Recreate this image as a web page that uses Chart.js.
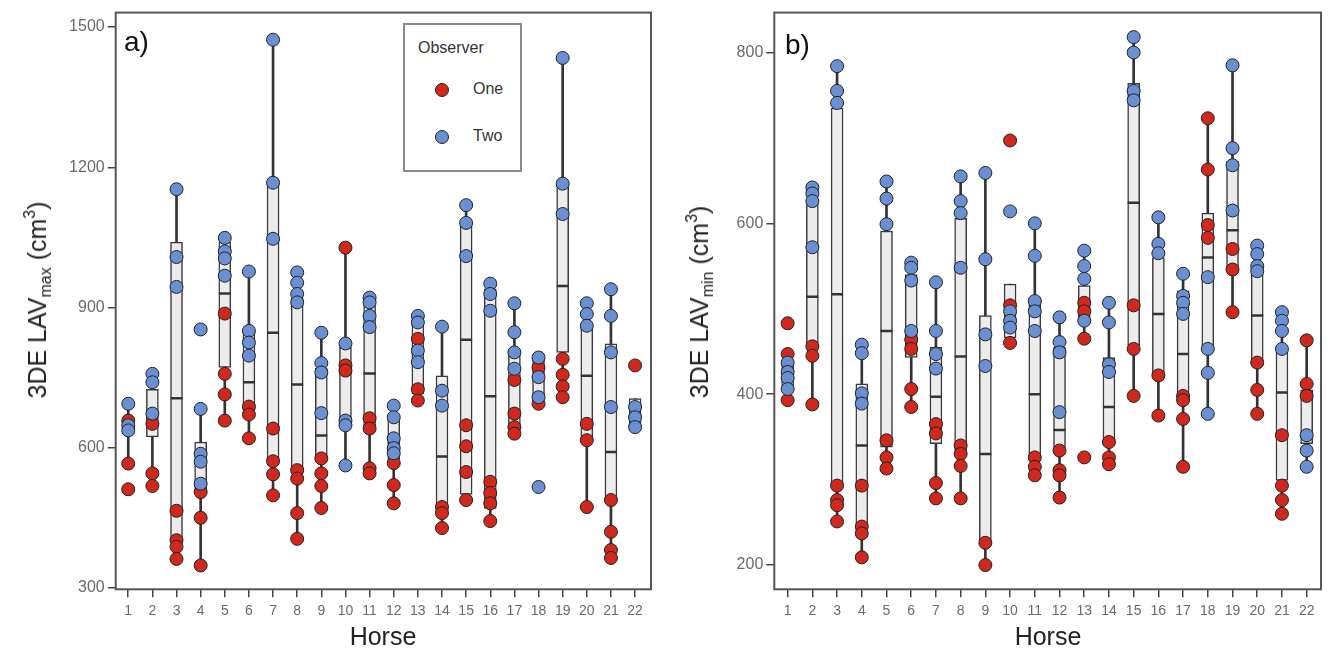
<!DOCTYPE html>
<html><head><meta charset="utf-8">
<script src="https://cdn.jsdelivr.net/npm/chart.js@4.4.1/dist/chart.umd.min.js"></script>
<style>
html,body{margin:0;padding:0;background:#fff;width:1331px;height:658px;overflow:hidden;font-family:"Liberation Sans",Arial,sans-serif;}
.wrap{position:absolute;top:0;}
#wa{left:0;width:662px;height:658px;}
#wb{left:660px;width:671px;height:658px;}
.ytitle{position:absolute;transform:translate(-50%,-50%) rotate(-90deg);white-space:nowrap;font-size:25px;color:#222;line-height:30px;}
.ytitle sub{font-size:16px;vertical-align:-5px;}
.ytitle sup{font-size:16px;vertical-align:11px;}
.xtitle{position:absolute;transform:translate(-50%,-50%);font-size:25px;color:#222;white-space:nowrap;}
.plab{position:absolute;font-size:28px;color:#111;line-height:28px;}
.legend{position:absolute;left:403px;top:23px;width:119px;height:149px;border:2px solid #8a8a8a;box-sizing:border-box;background:#fff;color:#333;font-size:16px;}
.legend .t{position:absolute;left:13px;top:14px;}
.legend .d{position:absolute;width:12px;height:12px;border-radius:50%;border:1px solid #222;}
.legend .l{position:absolute;left:68px;}
</style></head>
<body>
<div class="wrap" id="wa"><canvas id="ca" width="662" height="658"></canvas></div>
<div class="wrap" id="wb"><canvas id="cb" width="671" height="658"></canvas></div>
<div class="ytitle" style="left:38px;top:300px;">3DE LAV<sub>max</sub> (cm<sup>3</sup>)</div>
<div class="ytitle" style="left:700px;top:302px;">3DE LAV<sub>min</sub> (cm<sup>3</sup>)</div>
<div class="xtitle" style="left:383px;top:636px;">Horse</div>
<div class="xtitle" style="left:1048px;top:636px;">Horse</div>
<div class="plab" style="left:124px;top:28px;">a)</div>
<div class="plab" style="left:785px;top:31px;">b)</div>
<div class="legend">
  <div class="t">Observer</div>
  <div class="d" style="left:30px;top:58px;background:#d0281c;"></div><div class="l" style="top:55px;">One</div>
  <div class="d" style="left:30px;top:105px;background:#6a90d4;"></div><div class="l" style="top:102px;">Two</div>
</div>
<script>
const horses = [1,2,3,4,5,6,7,8,9,10,11,12,13,14,15,16,17,18,19,20,21,22];
const horseLabels = horses.map(String);

// Panel a) 3DE LAVmax
const yTicksA = [300,600,900,1200,1500];
const boxLoA  = [630,623,405,502,772,680,570,545,575,650,640,575,715,465,500,470,641,700,804,620,490,645];
const boxMedA = [645,665,706,567,930,740,846,735,626,760,759,610,805,581,831,710,745,750,946,754,591,668];
const boxHiA  = [658,725,1040,612,1040,850,1167,920,770,815,905,665,868,754,1075,940,808,790,1165,855,822,705];
const whLoA   = [566,518,362,348,658,620,498,405,471,562,545,481,701,428,488,443,630,694,708,473,364,644];
const whHiA   = [694,758,1153,684,1049,977,1473,975,846,1028,921,690,882,859,1119,951,909,793,1434,909,939,705];
const oneA = [[658,566,511],[651,545,518],[465,402,388,362],[505,450,348],[887,758,714,658],[688,671,620],[641,571,543,498],[552,534,460,405],[577,545,518,471],[1028,776,765],[663,641,556,545],[567,520,481],[833,725,701],[473,460,428],[648,603,548,488],[527,503,481,443],[745,673,644,630],[771,694],[790,756,731,708],[651,616,473],[488,420,381,364],[776]];
const twoA = [[694,648,637],[758,740,673],[1153,1008,944],[853,683,587,570,523],[1049,1020,1005,968],[977,850,825,797],[1473,1167,1047],[975,953,929,911],[846,781,761,674],[823,658,648,562],[921,911,882,858],[690,665,620,599,588],[882,868,808,783],[859,722,690],[1119,1081,1010],[951,929,893],[909,847,804,769],[793,751,708,516],[1434,1165,1100],[909,886,861],[939,882,804,687],[687,665,644]];

// Panel b) 3DE LAVmin
const yTicksB = [200,400,600,800];
const boxLoB  = [405,460,293,246,338,443,342,334,229,466,330,338,482,340,457,420,393,450,548,439,299,342];
const boxMedB = [425,514,517,340,474,470,397,444,330,490,400,358,500,385,624,494,447,560,592,492,402,350];
const boxHiB  = [440,626,735,412,591,540,455,606,492,529,513,455,527,443,764,560,521,612,673,541,449,405];
const whLoB   = [393,388,251,209,313,385,278,278,200,460,305,279,465,317,398,375,315,377,496,377,260,315];
const whHiB   = [447,642,784,458,649,554,531,655,659,529,600,490,568,507,818,607,541,723,785,574,496,463];
const oneB = [[483,447,393],[456,445,388],[293,276,270,251],[293,245,237,209],[346,326,313],[464,453,406,385],[365,354,296,278],[340,330,316,278],[226,200],[697,504,460],[326,315,305],[334,311,305,279],[507,497,465,326],[344,326,318],[504,453,398],[422,375],[398,393,371,315],[723,663,598,583],[570,546,496],[437,405,377],[352,293,276,260],[463,412,398]];
const twoB = [[437,426,419,406],[642,635,626,572],[784,755,741],[458,448,401,389],[649,629,599],[554,548,533,474],[531,474,447,430],[655,626,612,548],[659,558,470,433],[614,497,486,478],[600,562,509,497,474],[490,461,449,379],[568,550,535,486],[507,484,435,426],[818,800,755,744],[607,576,565],[541,515,507,494],[537,453,425,377],[785,688,668,615],[574,564,550,544],[496,486,474,453],[352,334,315]];

const RED = '#d0281c', BLUE = '#6a90d4';

const framePlugin = {
  id: 'frame',
  afterDraw(chart) {
    const a = chart.chartArea, ctx = chart.ctx;
    ctx.save();
    ctx.strokeStyle = '#555';
    ctx.lineWidth = 2;
    ctx.strokeRect(a.left, a.top, a.right - a.left, a.bottom - a.top);
    ctx.restore();
  }
};

function pts(arr) {
  const out = [];
  arr.forEach((vals, i) => vals.forEach(v => out.push({x: horses[i], y: v})));
  return out;
}

function makeChart(id, c) {
  return new Chart(document.getElementById(id), {
    type: 'bar',
    data: {
      datasets: [
        {type:'scatter', label:'Two', data: pts(c.two), backgroundColor: BLUE, borderColor:'#222', borderWidth:1, pointRadius:6.5, order:0},
        {type:'scatter', label:'One', data: pts(c.one), backgroundColor: RED, borderColor:'#222', borderWidth:1, pointRadius:6.5, order:1},
        {type:'scatter', label:'median', data: horses.map((h,i)=>({x:h, y:c.med[i]})), pointStyle:'line', pointRadius:6, borderColor:'#333', borderWidth:2.5, order:2},
        {type:'bar', label:'box', data: horses.map((h,i)=>({x:h, y:[c.lo[i], c.hi[i]]})), backgroundColor:'#ececec', borderColor:'#3a3a3a', borderWidth:1.5, borderSkipped:false, barThickness:12, grouped:false, order:3},
        {type:'bar', label:'whisker', data: horses.map((h,i)=>({x:h, y:[c.wlo[i], c.whi[i]]})), backgroundColor:'#333', borderWidth:0, barThickness:2, grouped:false, order:4}
      ]
    },
    options: {
      responsive:false, animation:false, devicePixelRatio:1,
      layout:{padding:{top:11, right:c.padRight, left:0, bottom:0}},
      plugins:{legend:{display:false}, tooltip:{enabled:false}},
      scales:{
        x:{type:'linear', min:c.xMin, max:c.xMax, offset:false,
           afterBuildTicks(s){ s.ticks = horses.map(v=>({value:v})); },
           afterFit(s){ s.height = 68.7; },
           grid:{display:true, offset:false, drawOnChartArea:false, drawTicks:true, tickLength:8, color:'#444', lineWidth:1.5},
           border:{display:false},
           ticks:{autoSkip:false, maxRotation:0, padding:5, color:'#6a6a6a', font:{family:'Liberation Sans', size:14}, callback:(v,i)=>horseLabels[i]}
        },
        y:{type:'linear', min:c.yMin, max:c.yMax,
           afterBuildTicks(s){ s.ticks = c.yTicks.map(v=>({value:v})); },
           afterFit(s){ s.width = c.yWidth; },
           grid:{display:true, drawOnChartArea:false, drawTicks:true, tickLength:8, color:'#444', lineWidth:1.5},
           border:{display:false},
           ticks:{padding:3, color:'#6a6a6a', font:{family:'Liberation Sans', size:16}, callback:(v)=>String(v)}
        }
      }
    },
    plugins:[framePlugin]
  });
}

makeChart('ca', {two:twoA, one:oneA, med:boxMedA, lo:boxLoA, hi:boxHiA, wlo:whLoA, whi:whHiA,
  yMin:297, yMax:1531, yTicks:yTicksA, yWidth:115.7, padRight:11, xMin:0.48, xMax:22.66});
makeChart('cb', {two:twoB, one:oneB, med:boxMedB, lo:boxLoB, hi:boxHiB, wlo:whLoB, whi:whHiB,
  yMin:171.6, yMax:846.7, yTicks:yTicksB, yWidth:114.3, padRight:10, xMin:0.46, xMax:22.58});
</script>
</body></html>
